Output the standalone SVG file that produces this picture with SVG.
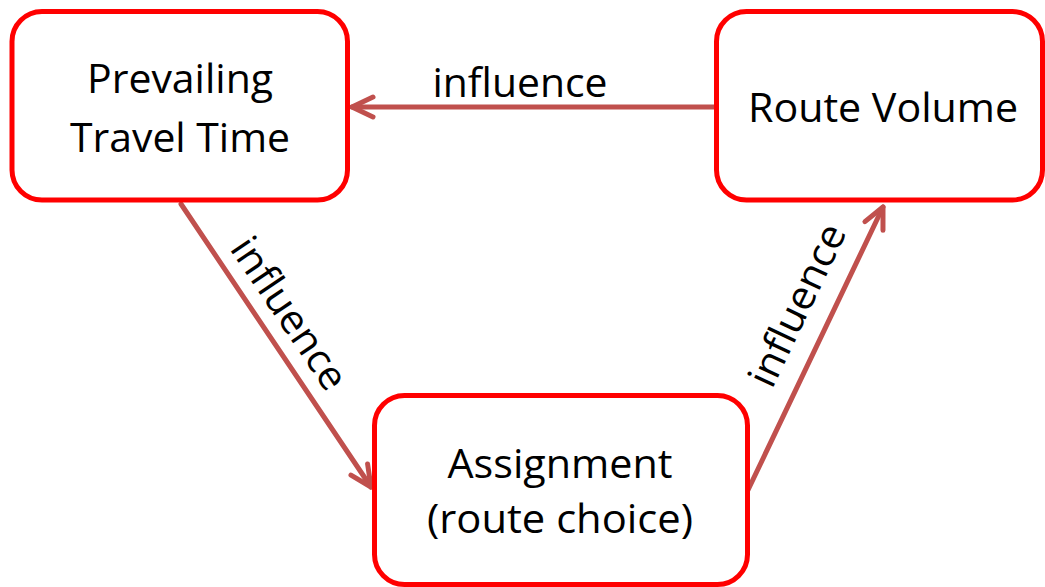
<svg xmlns="http://www.w3.org/2000/svg" width="1045" height="587" viewBox="0 0 1045 587">
<style>
.box{fill:#fff;stroke:#ff0000;stroke-width:5}
.lbl{font-family:"Open Sans","Liberation Sans",sans-serif;font-size:40px;fill:#000;text-anchor:middle}
.conn{stroke:#c0504d;stroke-width:5;fill:none;stroke-linecap:round}
</style>
<defs>
<marker id="ah" markerUnits="userSpaceOnUse" viewBox="0 0 30 30" markerWidth="30" markerHeight="30" refX="26" refY="15" orient="auto">
<path d="M5 5 L26 15 L5 25" fill="none" stroke="#c0504d" stroke-width="5" stroke-linecap="round" stroke-linejoin="round"/>
</marker>
</defs>
<rect width="1045" height="587" fill="#fff"/>
<g id="connectors">
<line class="conn" x1="716" y1="107" x2="352" y2="107" marker-end="url(#ah)"/>
<line class="conn" x1="181" y1="204" x2="371" y2="487" marker-end="url(#ah)"/>
<line class="conn" x1="748" y1="490" x2="883" y2="207" marker-end="url(#ah)"/>
<text class="lbl" x="520" y="97" textLength="175" lengthAdjust="spacingAndGlyphs">influence</text>
<text class="lbl" transform="translate(278,321) rotate(56)" x="0" y="0" textLength="175" lengthAdjust="spacingAndGlyphs">influence</text>
<text class="lbl" transform="translate(797,305) rotate(-64.6)" x="0" y="14" textLength="175" lengthAdjust="spacingAndGlyphs">influence</text>
</g>
<g id="node-prevailing">
<rect class="box" x="12" y="11.5" width="335.5" height="188.5" rx="30"/>
<text class="lbl" x="180" y="93" textLength="186" lengthAdjust="spacingAndGlyphs">Prevailing</text>
<text class="lbl" x="180" y="152" textLength="220" lengthAdjust="spacingAndGlyphs">Travel Time</text>
</g>
<g id="node-route-volume">
<rect class="box" x="716.5" y="11.5" width="326" height="188.5" rx="30"/>
<text class="lbl" x="883" y="122" textLength="270" lengthAdjust="spacingAndGlyphs">Route Volume</text>
</g>
<g id="node-assignment">
<rect class="box" x="374.5" y="395.5" width="373" height="189" rx="30"/>
<text class="lbl" x="560" y="478" textLength="225" lengthAdjust="spacingAndGlyphs">Assignment</text>
<text class="lbl" x="560" y="533" textLength="266" lengthAdjust="spacingAndGlyphs">(route choice)</text>
</g>
</svg>
